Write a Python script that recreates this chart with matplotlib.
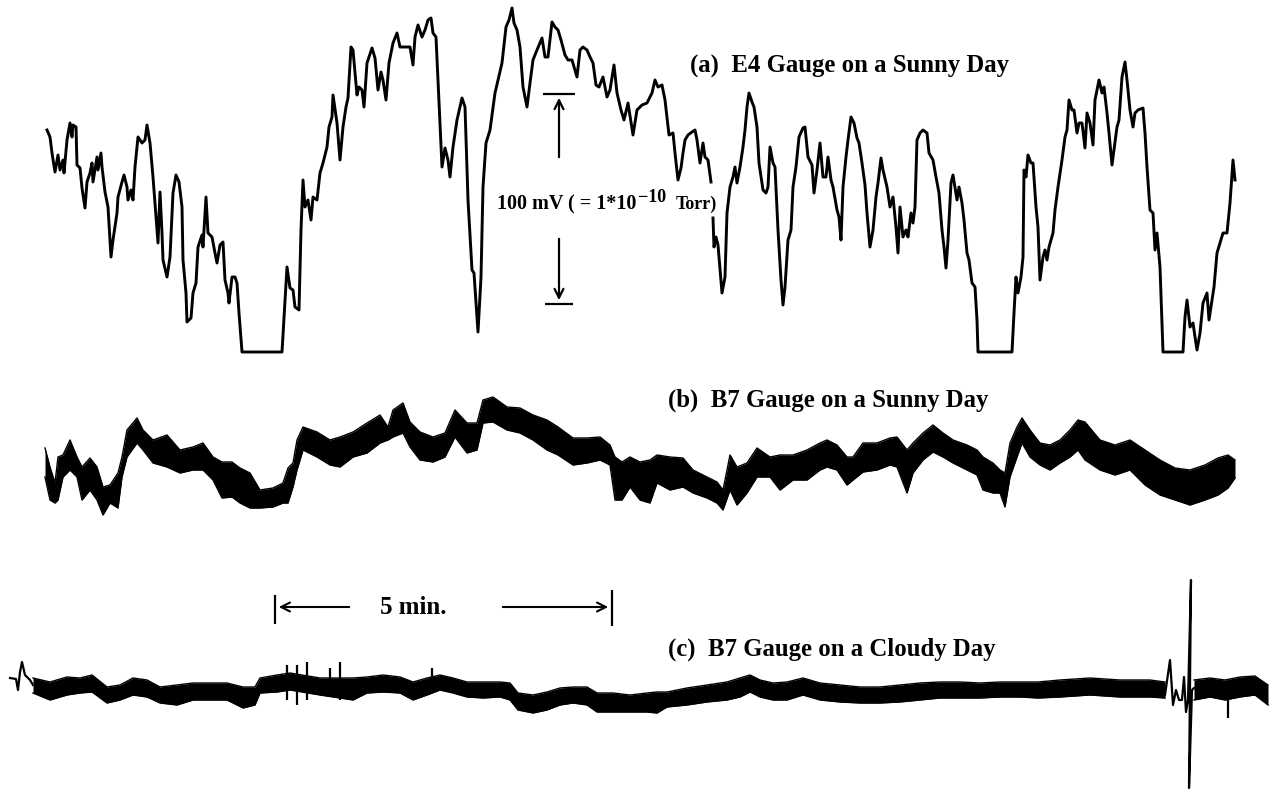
import numpy as np
import matplotlib
matplotlib.use("Agg")
import matplotlib.pyplot as plt

# ---------------- data (time axis in chart units, signal level in chart units) -------------
# (a) E4 gauge, sunny day: (time, level)
a_points = [
    (47,130),(50,137),(52,153),(55,172),(58,155),(60,170),(63,160),(64,173),(67,140),(70,123),(72,137),(73,125),
    (76,127),(77,165),(80,168),(82,188),(85,208),(87,182),(90,173),(92,163),(93,182),(97,157),(98,170),(101,153),
    (102,167),(105,192),(108,207),(111,257),(113,240),(117,213),(118,197),(122,182),(124,175),(127,187),(128,200),
    (131,190),(133,200),(135,167),(138,137),(142,143),(145,140),(147,125),(150,143),(153,177),(156,217),(158,243),
    (160,192),(162,233),(163,260),(167,277),(170,257),(173,193),(176,175),(179,182),(182,207),(183,260),(186,293),
    (187,322),(191,318),(193,293),(196,283),(198,247),(202,235),(203,247),(206,197),(208,233),(212,237),(215,253),
    (217,263),(220,245),(223,242),(225,280),(228,293),(229,303),(232,277),(235,277),(237,283),(239,313),(242,352),
    (282,352),(285,300),(287,267),(290,288),(293,290),(295,307),(299,310),(301,230),(303,180),(305,207),(308,200),
    (311,220),(313,197),(317,200),(320,173),(323,163),(327,147),(329,127),(332,117),(333,95),(337,123),(340,160),
    (343,127),(346,107),(348,98),(351,47),(353,50),(357,95),(359,87),(362,90),(364,107),(367,63),(372,48),(375,58),
    (378,90),(381,72),(383,80),(386,100),(389,63),(393,43),(397,33),(400,47),(405,47),(410,47),(413,65),(415,37),
    (418,25),(422,37),(425,30),(428,20),(431,18),(433,33),(436,37),(438,80),(442,167),(445,148),(448,160),(450,177),
    (453,147),(457,120),(462,98),(465,107),(468,200),(472,270),(474,273),(478,332),(481,277),(483,187),(486,143),
    (490,130),(495,93),(498,80),(502,63),(506,27),(509,20),(512,8),(514,23),(517,30),(520,47),(523,87),(527,107),
    (530,83),(533,60),(537,50),(542,38),(545,57),(548,57),(552,22),(555,27),(558,30),(561,40),(565,55),(568,60),
    (572,60),(577,77),(580,50),(583,47),(587,50),(590,57),(593,63),(596,85),(599,87),(603,77),(607,97),(610,90),
    (614,65),(617,93),(621,110),(624,120),(628,103),(633,135),(637,110),(642,105),(647,103),(652,93),(655,80),
    (658,87),(662,85),(665,100),(669,135),(673,133),(675,153),(678,180),(681,168),(683,153),(685,140),(688,135),
    (692,132),(695,130),(697,140),(700,163),(703,143),(705,157),(708,160),(711,182),(712,np.nan),(713,218),(714,247),
    (716,237),(718,245),(722,293),(725,277),(727,213),(730,187),(733,177),(735,167),(737,183),(740,167),(743,147),
    (745,130),(747,107),(749,93),(752,102),(754,107),(757,127),(759,163),(763,190),(766,193),(768,187),(770,147),
    (773,163),(775,167),(778,230),(781,280),(783,305),(785,287),(788,240),(791,230),(793,187),(796,167),(799,137),
    (803,128),(805,127),(808,157),(812,165),(814,193),(817,170),(820,143),(823,177),(826,177),(828,157),(831,180),
    (833,187),(837,210),(839,217),(841,240),(843,187),(846,157),(848,140),(851,117),(854,123),(857,138),(859,143),
    (862,163),(865,185),(867,213),(870,247),(873,230),(876,197),(878,183),(881,158),(883,170),(887,187),(890,207),
    (893,197),(896,227),(898,253),(900,207),(903,237),(906,230),(908,237),(911,213),(913,223),(915,207),(917,140),
    (920,133),(923,130),(927,133),(929,153),(933,160),(936,177),(939,193),(942,230),(944,247),(946,268),(948,240),
    (951,183),(953,175),(957,200),(959,187),(962,203),(964,220),(967,253),(969,260),(972,283),(975,287),(977,320),
    (978,352),(1012,352),(1014,313),(1016,277),(1018,293),(1021,277),(1023,257),(1024,170),(1026,177),(1028,155),
    (1031,163),(1033,163),(1036,207),(1038,227),(1040,280),(1043,257),(1045,250),(1047,260),(1049,247),(1053,233),
    (1055,210),(1058,187),(1062,160),(1065,137),(1067,130),(1069,100),(1072,110),(1074,110),(1077,133),(1079,123),
    (1082,123),(1085,148),(1087,113),(1090,123),(1093,145),(1095,100),(1097,90),(1099,80),(1102,93),(1104,87),
    (1107,113),(1109,133),(1112,165),(1114,150),(1117,127),(1119,120),(1122,77),(1125,62),(1127,80),(1130,110),
    (1133,127),(1135,113),(1138,110),(1143,108),(1145,133),(1147,167),(1150,210),(1153,213),(1155,250),(1157,233),
    (1160,267),(1163,352),(1183,352),(1185,317),(1187,300),(1190,327),(1193,323),(1195,337),(1197,350),(1200,333),
    (1203,303),(1207,293),(1209,320),(1212,300),(1214,287),(1217,253),(1220,243),(1223,233),(1227,233),(1230,203),
    (1233,160),(1235,180),
]

# (b) B7 gauge, sunny day: (time, upper envelope, lower envelope)
b_band = [
    (45,448,477),(50,467,500),(55,483,503),(58,457,500),(63,455,477),(70,440,470),(77,457,477),(82,467,500),
    (90,458,490),(97,467,500),(103,487,515),(110,485,503),(118,473,508),(122,457,477),(127,430,457),(137,418,443),
    (143,430,450),(153,440,463),(167,435,467),(180,450,473),(193,447,470),(203,443,470),(213,457,480),(222,462,498),
    (232,462,497),(240,468,503),(250,473,508),(260,490,508),(273,488,507),(283,483,503),(288,468,503),(293,463,487),
    (297,440,470),(303,427,450),(317,432,457),(330,440,465),(340,437,467),(353,432,457),(367,423,453),(380,415,443),
    (388,427,440),(393,410,437),(403,403,433),(410,422,447),(420,432,460),(433,437,462),(445,433,457),(455,410,437),
    (467,423,453),(477,423,450),(483,400,423),(493,397,422),(507,407,430),(520,408,433),(533,415,440),(547,420,450),
    (558,427,455),(573,438,465),(587,438,463),(600,437,460),(610,445,465),(615,457,500),(622,462,500),(630,457,487),
    (640,462,500),(650,460,503),(657,455,483),(670,457,490),(683,458,487),(693,470,493),(707,477,498),(717,482,503),
    (723,490,510),(730,455,490),(737,467,505),(747,463,493),(757,448,477),(770,457,477),(780,455,490),(793,455,480),
    (807,450,480),(820,443,470),(827,440,467),(837,445,470),(847,457,485),(853,457,480),(863,443,472),(877,443,470),
    (890,438,465),(897,437,467),(907,450,493),(913,443,473),(923,433,460),(933,425,452),(943,433,457),(953,440,463),
    (967,445,470),(977,450,475),(983,457,490),(993,463,493),(1000,470,493),(1005,473,507),(1010,443,477),
    (1017,427,457),(1022,418,443),(1030,430,457),(1040,443,465),(1050,445,470),(1060,440,463),(1070,430,457),
    (1078,420,450),(1085,422,460),(1100,440,470),(1115,445,475),(1130,440,470),(1145,450,485),(1160,460,495),
    (1175,468,500),(1190,470,505),(1205,465,500),(1218,458,495),(1228,455,488),(1235,460,478),
]

# (c) B7 gauge, cloudy day: (time, upper envelope, lower envelope)
c_band_1 = [
    (33,678,693),(50,682,700),(67,677,695),(80,678,693),(92,675,692),(107,687,703),(120,685,700),(133,678,695),
    (147,680,697),(160,687,703),(177,685,705),(193,683,700),(210,683,700),(227,683,700),(243,687,708),(255,687,705),
    (260,678,693),(277,675,692),(290,673,690),(320,678,695),(353,678,700),(367,677,693),(383,675,692),(400,677,693),
    (413,682,700),(427,678,695),(440,675,690),(453,678,693),(467,682,697),(483,682,698),(500,682,697),(510,683,700),
    (518,693,710),(533,695,713),(547,692,710),(560,688,705),(573,687,703),(587,687,705),(597,693,712),(613,693,712),
    (630,695,712),(647,693,712),(657,692,713),(667,692,707),(687,688,705),(707,685,702),(727,682,700),(740,678,697),
    (750,675,692),(760,680,697),(773,683,700),(787,682,700),(803,678,695),(820,683,700),(840,685,702),(860,687,703),
    (880,687,703),(900,685,702),(920,683,700),(940,682,698),(960,682,698),(980,683,698),(1000,682,697),(1020,682,697),
    (1038,682,698),(1060,680,697),(1090,678,695),(1120,680,697),(1150,680,697),(1165,682,698),
]
c_band_2 = [(1194,680,700),(1210,678,697),(1225,680,700),(1240,677,697),(1255,676,695),(1268,685,705)]
c_spikes = [(287,665,700),(297,665,705),(307,662,700),(330,668,690),(340,662,700),(432,668,685),(1228,690,718)]
c_start = [(10,678),(16,679),(18,690),(20,672),(22,662),(25,675),(30,680),(33,685)]
c_burst = [(1160,688),(1165,695),(1170,660),(1173,705),(1176,690),(1179,700),(1182,700),(1184,677),(1186,712),
           (1188,700),(1191,580),(1189,788),(1192,690),(1194,688)]

labels = ["(a)  E4 Gauge on a Sunny Day", "(b)  B7 Gauge on a Sunny Day", "(c)  B7 Gauge on a Cloudy Day"]
scale_time_text = "5 min."
scale_level_parts = ["100 mV ( = 1*10", "\u221210", "Torr)"]

# ---------------- drawing ----------------
fig = plt.figure(figsize=(12.7, 7.9), dpi=100)
ax = fig.add_axes([0, 0, 1, 1])
ax.set_xlim(0, 1270)
ax.set_ylim(790, 0)
ax.axis("off")

INK = "#000000"
FONT = dict(family="Liberation Serif", weight="bold", color=INK)

ax_t, ax_v = zip(*a_points)
ax.plot(ax_t, ax_v, color=INK, lw=2.1, solid_joinstyle="round")

def band(data):
    t, hi, lo = (np.array(v, dtype=float) for v in zip(*data))
    ax.fill_between(t, hi, lo, color=INK, lw=0)
    ax.plot(t, hi, color=INK, lw=1.0)
    ax.plot(t, lo, color=INK, lw=1.0)

band(b_band)
band(c_band_1)
band(c_band_2)
for t, hi, lo in c_spikes:
    ax.vlines(t, hi, lo, color=INK, lw=1.6)
st, sv = zip(*c_start)
ax.plot(st, sv, color=INK, lw=1.6)
bt, bv = zip(*c_burst)
ax.plot(bt, bv, color=INK, lw=1.6)

# panel labels
ax.text(690, 66, labels[0], fontsize=17.8, ha="left", va="center", **FONT)
ax.text(668, 400, labels[1], fontsize=17.8, ha="left", va="center", **FONT)
ax.text(668, 649, labels[2], fontsize=17.8, ha="left", va="center", **FONT)

# 5-minute scale
ax.vlines(275, 595, 624, color=INK, lw=1.6)
ax.vlines(612, 590, 626, color=INK, lw=1.6)
ax.annotate("", xy=(276, 607), xytext=(352, 607),
            arrowprops=dict(arrowstyle="->", color=INK, lw=1.5, mutation_scale=16))
ax.annotate("", xy=(611, 607), xytext=(500, 607),
            arrowprops=dict(arrowstyle="->", color=INK, lw=1.5, mutation_scale=16))
ax.text(413, 607, scale_time_text, fontsize=18, ha="center", va="center", **FONT)

# 100 mV scale
ax.hlines(94, 543, 575, color=INK, lw=1.6)
ax.annotate("", xy=(559, 95), xytext=(559, 160),
            arrowprops=dict(arrowstyle="->", color=INK, lw=1.6, mutation_scale=16))
ax.hlines(304, 545, 573, color=INK, lw=1.6)
ax.annotate("", xy=(559, 303), xytext=(559, 236),
            arrowprops=dict(arrowstyle="->", color=INK, lw=1.6, mutation_scale=16))
t1 = ax.text(497, 209, scale_level_parts[0], fontsize=14.5, ha="left", va="baseline", **FONT)
t2 = ax.annotate(scale_level_parts[1], xy=(1, 202), xycoords=(t1, "data"), xytext=(1, 0),
                 textcoords="offset points", fontsize=13, ha="left", va="baseline", **FONT)
ax.annotate(scale_level_parts[2], xy=(1, 209), xycoords=(t2, "data"), xytext=(7, 0),
            textcoords="offset points", fontsize=13, ha="left", va="baseline", **FONT)

fig.savefig("out.png", dpi=100, facecolor="white")
